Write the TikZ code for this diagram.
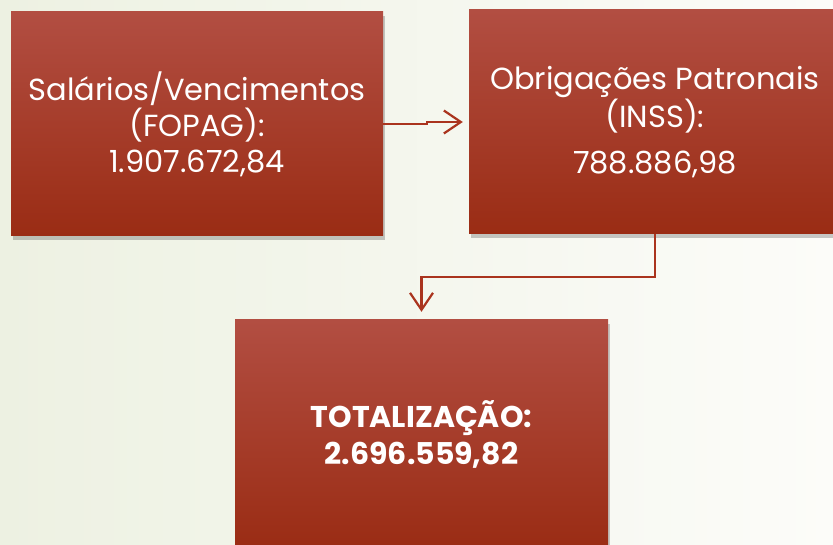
\documentclass[tikz,border=0pt]{standalone}
\usepackage{fontspec}
\setmainfont{Poppins}
\usetikzlibrary{arrows.meta,shadows}
\definecolor{boxtop}{RGB}{178,78,66}
\definecolor{boxbot}{RGB}{154,44,20}
\definecolor{connred}{RGB}{170,52,30}
\definecolor{bgleft}{RGB}{237,241,226}
\definecolor{bgright}{RGB}{252,252,249}
\begin{document}
\begin{tikzpicture}[x=1pt, y=-1pt,
  valuebox/.style={rectangle, minimum width=372pt, minimum height=224pt,
    top color=boxtop, bottom color=boxbot, text=white, align=center,
    drop shadow={shadow xshift=2pt, shadow yshift=-4pt, opacity=.3, fill=black!70},
    font=\fontsize{30.5}{36}\selectfont},
  conn/.style={draw=connred, line width=2.2pt, -{Straight Barb[length=17pt, width=23pt, line width=2.2pt]}}]
\useasboundingbox (0,0) rectangle (833,545);
\clip (0,0) rectangle (833,545);
\shade[left color=bgleft, right color=bgright] (0,0) rectangle (833,545);
\node[valuebox] (fopag) at (197,124) {Salários/Vencimentos\\(FOPAG):\\1.907.672,84};
\node[valuebox] (inss) at (655,122) {Obrigações Patronais\\(INSS):\\[10pt]788.886,98};
\node[valuebox, minimum width=373pt, minimum height=228pt, font=\fontsize{30}{37}\selectfont\bfseries] (total) at (421.5,434) {TOTALIZAÇÃO:\\2.696.559,82};
\draw[conn, shorten >=6pt] (fopag.east) -- ++(44,0) |- (inss.west);
\draw[conn, shorten >=8pt] (inss.south) -- ++(0,43) -| (total.north);
\end{tikzpicture}
\end{document}
